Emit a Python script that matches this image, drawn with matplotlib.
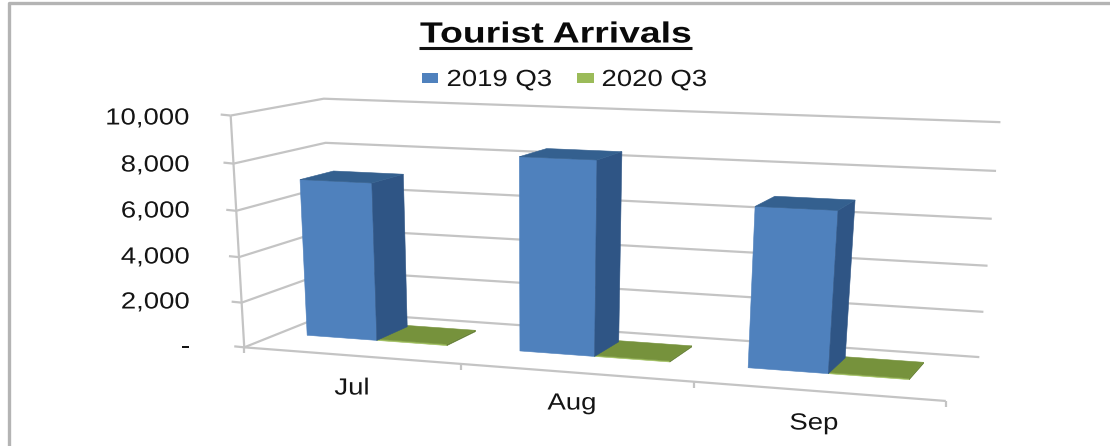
import numpy as np
import matplotlib
matplotlib.use("Agg")
import matplotlib.pyplot as plt
import matplotlib.patheffects as pe
from matplotlib.patches import Polygon, Rectangle
from matplotlib.lines import Line2D
from matplotlib.transforms import Affine2D

plt.rcParams['font.family'] = ['Liberation Sans', 'DejaVu Sans']

# ---- data ----
categories = ["Jul", "Aug", "Sep"]
series_2019 = [7000, 8400, 6800]
series_2020 = [60, 50, 50]
series_names = ["2019 Q3", "2020 Q3"]
value_ticks = [0, 2000, 4000, 6000, 8000, 10000]
value_labels = ["-", "2,000", "4,000", "6,000", "8,000", "10,000"]
title = "Tourist Arrivals"

# ---- perspective calibration: (category pos, depth, value fraction) -> pixel ----
anchors = [
    (0, 0, 0, 247.7, 345.0), (0, 0, 1, 227.5, 115.0),
    (0, 1, 0, 329.0, 312.0), (0, 1, 1, 327.0, 100.5),
    (3, 1, 0, 980.0, 356.7), (3, 1, 1, 1000.0, 120.7),
    (3, 0, 0, 942.7, 401.7), (1, 0, 0, 458.3, 365.0),
    (2, 0, 0, 700.0, 383.0),
]
A, b = [], []
for x, d, z, u, v in anchors:
    A.append([x, d, z, 1, 0, 0, 0, 0, -u*x, -u*d, -u*z]); b.append(u)
    A.append([0, 0, 0, 0, x, d, z, 1, -v*x, -v*d, -v*z]); b.append(v)
p = np.linalg.lstsq(np.array(A, float), np.array(b, float), rcond=None)[0]
VMAX = 10000.0


def proj(x, d, val):
    z = val / VMAX
    w = p[8]*x + p[9]*d + p[10]*z + 1
    return ((p[0]*x + p[1]*d + p[2]*z + p[3]) / w,
            (p[4]*x + p[5]*d + p[6]*z + p[7]) / w)


class Stretch(pe.AbstractPathEffect):
    """Widen a text's glyphs about its anchor: the reference text is horizontally stretched."""
    def __init__(self, cx, sx):
        super().__init__()
        self.cx, self.sx = cx, sx

    def draw_path(self, renderer, gc, tpath, affine, rgbFace=None):
        t = affine + Affine2D().translate(-self.cx, 0).scale(self.sx, 1).translate(self.cx, 0)
        renderer.draw_path(gc, tpath, t, rgbFace)


fig = plt.figure(figsize=(11.10, 4.46), dpi=100)
ax = fig.add_axes([0, 0, 1, 1])
ax.set_xlim(0, 1110)
ax.set_ylim(446, 0)
ax.axis("off")

GRID = "#c4c4c4"
BORDER = "#b4b4b4"
TEXT = "#141414"
SX = 1.18


def label(u, v, s, ha="center", size=16.8, sx=SX, **kw):
    t = ax.text(u, v, s, ha=ha, va="center", fontsize=size, color=kw.pop("color", TEXT), **kw)
    t.set_path_effects([Stretch(u, sx)])
    return t


def seg(pts, color=GRID, lw=1.6, z=1):
    xs, ys = zip(*pts)
    ax.add_line(Line2D(xs, ys, color=color, lw=lw, zorder=z, solid_capstyle="butt"))


# frame of the picture
seg([(8.5, 446), (8.5, 3), (1110, 3)], BORDER, 2.4)

# walls / gridlines
LABEL_Y = [347, 302, 257, 211, 165, 118]
for t, lab, ly in zip(value_ticks, value_labels, LABEL_Y):
    seg([proj(0, 0, t), proj(0, 1, t), proj(3, 1, t)])
    u, v = proj(0, 0, t)
    seg([(u - 10, v - 1), (u, v)])
    label(190, ly, lab, ha="right")
seg([proj(0, 0, 0), proj(0, 0, VMAX)])
seg([proj(0, 0, 0), proj(3, 0, 0)])
for i in range(4):
    u, v = proj(i, 0, 0)
    seg([(u, v), (u, v + 6)])

# bars
DEPTH0, DEPTH1 = 0.38, 0.76
SLOTS = [(0.135, 0.47), (0.47, 0.80)]
STYLES = [("#4f81bd", "#34608f", "#2f5585"), ("#9bbb59", "#76923c", "#5f7a30")]


def bar(i, slot, val, style, zo):
    x0, x1 = i + SLOTS[slot][0], i + SLOTS[slot][1]
    front, top, side = style
    ax.add_patch(Polygon([proj(x0, DEPTH0, 0), proj(x1, DEPTH0, 0), proj(x1, DEPTH0, val), proj(x0, DEPTH0, val)],
                         fc=front, ec=front, lw=0.4, zorder=zo))
    ax.add_patch(Polygon([proj(x1, DEPTH0, 0), proj(x1, DEPTH1, 0), proj(x1, DEPTH1, val), proj(x1, DEPTH0, val)],
                         fc=side, ec=side, lw=0.4, zorder=zo))
    ax.add_patch(Polygon([proj(x0, DEPTH0, val), proj(x1, DEPTH0, val), proj(x1, DEPTH1, val), proj(x0, DEPTH1, val)],
                         fc=top, ec=top, lw=0.4, zorder=zo))


for i in range(3):
    bar(i, 1, series_2020[i], STYLES[1], 3 + i * 2)
    bar(i, 0, series_2019[i], STYLES[0], 4 + i * 2)

# category labels
label_pos = [(352, 388), (572, 403), (814, 423)]
for c, (u, v) in zip(categories, label_pos):
    label(u, v, c)

# title
label(556, 34.5, title, size=21.0, sx=1.28, fontweight="bold", color="#0a0a0a")
seg([(419, 47.5), (692, 47.5)], "#111111", 2.2, 5)

# legend
legend_x = [(421.5, 446.5), (577, 601.5)]
for (sq, tx), name, st in zip(legend_x, series_names, STYLES):
    ax.add_patch(Rectangle((sq, 73), 16.5, 10, fc=st[0], ec="none", zorder=5))
    label(tx, 79.5, name, ha="left")

fig.savefig("out.png", dpi=100)
